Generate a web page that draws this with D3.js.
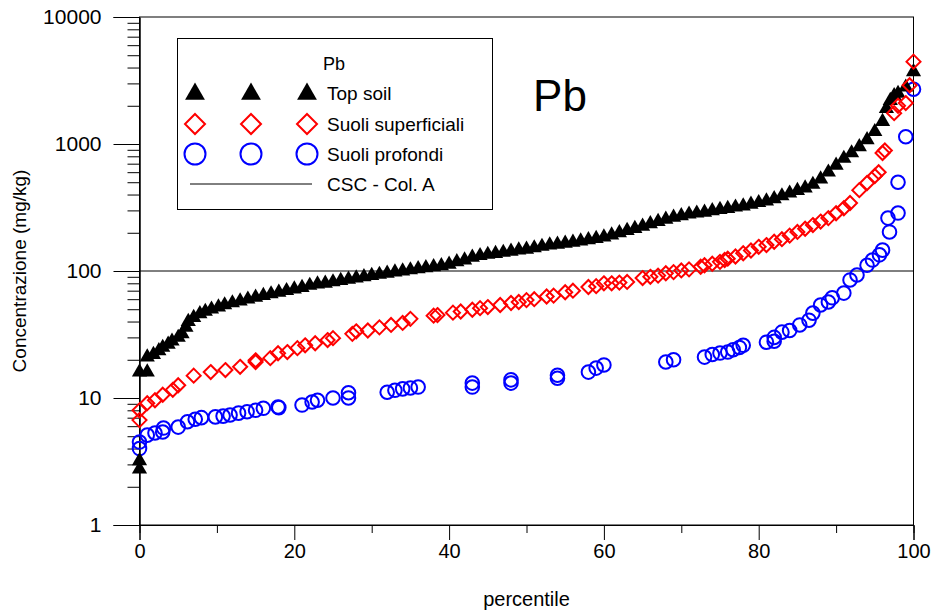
<!DOCTYPE html>
<html><head><meta charset="utf-8">
<script src="https://cdn.jsdelivr.net/npm/d3@7"></script>
<style>body{margin:0;background:#fff}svg{display:block}text{font-family:"Liberation Sans",Arial,sans-serif}</style>
</head><body>
<svg id="c" width="935" height="613"></svg>
<script>
// ---- data ----
const topSoilPct = [0,0,0,1,1,1.8,2.5,3,3.7,4.2,5,5.5,6,6.3,7,7.8,8.5,9.3,10.2,11,12,13,14,15,16,17,18,19,20,21,22,23,24,25,26,27,28,29,30,31,32,33,34,35,36,37,38,39,40,41,42,43,44,45,46,47,48,49,50,51,52,53,54,55,56,57,58,59,60,61,62,63,64,65,66,67,68,69,70,71,72,73,74,75,76,77,78,79,80,81,82,83,84,85,86,87,88,89,90,91,92,93,94,95,96,96.5,97,97.5,98,99,100];
const topSoilVal = [2.75,3.2,16,16,21,22,23.5,25,26.5,28,30,32,36,40,43,46,48,50,52,54,56,58,60,62,64,66,68,70,72,74,77,79,80,82,84,86,88,90,92,94,96,98,100,102,104,106,108,110,113,118,122,128,132,135,137,140,143,146,148,152,156,160,162,165,168,172,176,180,185,192,200,208,216,225,235,245,255,265,272,280,285,290,298,305,310,318,325,335,345,355,370,390,410,430,450,480,530,600,680,770,850,950,1080,1250,1500,1900,2200,2400,2500,2800,3700];

const superfPct = [0,0,1,2,3,4.3,5,7,9.2,11.1,13,15,15,16.9,17.9,19.1,20.4,21.4,22.7,24.3,25,27.5,28,29.5,31,32.5,34,35,38,38.5,40.5,41.5,43,44,45,46.6,48,49,50,51,52.6,53.5,55,56,58,59,60,61,62,63,65,66,67,68,69,70,71,72.5,73,74,75,75.6,76,77,78,79,80,81,82,83,84,85,86,87,88,89,90,91,91.8,93,94,95,95.5,96,96.3,97.5,98,99,99.5,100];
const superfVal = [6.7,8.0,9.1,9.6,10.6,11.6,12.6,15,16,16.6,17.6,19.2,19.8,20.6,22.5,23,24.7,26,27,28.6,29.6,32,33.5,34,36,37.6,39,42,44.5,45,47,48,49.5,51,52,54,56,57,59,60,63,64,68,70,74.8,76,80,80,81,82,88,90,92,96,98,101,103,108,111,114,118,122,125,130,138,145,155,160,170,178,190,203,215,230,245,261,285,312,343,433,493,560,600,850,890,1750,2000,2100,2900,4450];

const profPct = [0,0,1,2,3,3.1,5,6.2,7.2,8,9.8,10.8,11.7,12.8,13.9,15,16,17.9,18,21,22.3,23,25,27,27,32,33,34,35,36,43,43,48,48,54,54,58,59,60,68,69,73,74,75,76,76.7,77.5,78,81,82,82,83,84,85.3,86.5,87,88,89,89.5,91,91.8,92.7,94,94.7,95.6,96,96.9,96.7,98,98,99,100];
const profVal = [4.0,4.5,5.1,5.3,5.4,5.8,5.9,6.5,6.8,7.0,7.1,7.2,7.35,7.6,7.8,8.0,8.3,8.5,8.4,8.8,9.3,9.6,10,11,10,11.1,11.5,11.8,12,12.2,13.1,12.2,13.9,13.1,15.1,14.3,16,17.2,18.2,19.2,20,21,22,22.6,23,24,25,26,27.5,28,30,33,34,37.6,41,46.6,54,57,61.5,67,85,93,111,122,134,146,203,261,286,500,1140,2700];

const cscLimit = 100;
const xTicks = [0,20,40,60,80,100];
const xMinor = [10,30,50,70,90];
const yTicks = [1,10,100,1000,10000];
const seriesNames = ["Top soil","Suoli superficiali","Suoli profondi","CSC - Col. A"];

// ---- chart ----
const svg = d3.select("#c");
const L = 139.5, R = 913.5, T = 17, B = 525;
const x = d3.scaleLinear().domain([0,100]).range([L,R]);
const y = d3.scaleLog().domain([1,10000]).range([B,T]);

// frame
svg.append("rect").attr("x",L).attr("y",T).attr("width",R-L).attr("height",B-T)
  .attr("fill","none").attr("stroke","#000").attr("stroke-width",1);

// y axis
const yMinor = [];
for (let d=1; d<10000; d*=10) for (let k=2;k<=9;k++) yMinor.push(d*k);
const yAx = svg.append("g").attr("transform",`translate(${L},0)`);
yAx.call(d3.axisLeft(y).tickValues(yTicks).tickFormat(d3.format("d")).tickSize(26).tickPadding(12));
yAx.append("g").call(d3.axisLeft(y).tickValues(yMinor).tickFormat("").tickSize(12));
yAx.selectAll(".domain").attr("stroke","#000");
yAx.selectAll("text").attr("font-size",21).attr("fill","#000");
yAx.selectAll("line").attr("stroke","#000");

// x axis
const xAx = svg.append("g").attr("transform",`translate(0,${B})`);
xAx.call(d3.axisBottom(x).tickValues(xTicks).tickSize(15).tickPadding(4));
xAx.append("g").call(d3.axisBottom(x).tickValues(xMinor).tickFormat("").tickSize(8));
xAx.selectAll(".domain").attr("stroke","#000");
xAx.selectAll("text").attr("font-size",20).attr("fill","#000");
xAx.selectAll("line").attr("stroke","#000");

svg.append("text").attr("x",(L+R)/2).attr("y",606).attr("text-anchor","middle")
  .attr("font-size",20).text("percentile");
svg.append("text").attr("transform","translate(26,271) rotate(-90)").attr("text-anchor","middle")
  .attr("font-size",19).text("Concentrazione (mg/kg)");

// CSC line
svg.append("line").attr("x1",L).attr("x2",R).attr("y1",y(cscLimit)).attr("y2",y(cscLimit))
  .attr("stroke","#000").attr("stroke-width",1);

const tri = d3.symbol().type(d3.symbolTriangle).size(100);
const dia = (s)=>`M0,${-s}L${s},0L0,${s}L${-s},0Z`;

// blue circles
svg.append("g").selectAll("circle").data(profPct.map((p,i)=>[p,profVal[i]])).join("circle")
  .attr("cx",d=>x(d[0])).attr("cy",d=>y(d[1])).attr("r",6.8)
  .attr("fill","none").attr("stroke","#0000ff").attr("stroke-width",2);
// black triangles
svg.append("g").selectAll("path").data(topSoilPct.map((p,i)=>[p,topSoilVal[i]])).join("path")
  .attr("d",tri).attr("transform",d=>`translate(${x(d[0])},${y(d[1])})`).attr("fill","#000");
// red diamonds
svg.append("g").selectAll("path").data(superfPct.map((p,i)=>[p,superfVal[i]])).join("path")
  .attr("d",dia(7)).attr("transform",d=>`translate(${x(d[0])},${y(d[1])})`)
  .attr("fill","none").attr("stroke","#ff0000").attr("stroke-width",2);

// Big label
svg.append("text").attr("x",560).attr("y",111).attr("text-anchor","middle")
  .attr("font-size",44).attr("font-family","'Comic Sans MS','DejaVu Sans',sans-serif").text("Pb");

// legend
const lg = svg.append("g");
lg.append("rect").attr("x",177.5).attr("y",38.5).attr("width",315).attr("height",171)
  .attr("fill","#fff").attr("stroke","#000").attr("stroke-width",1);
lg.append("text").attr("x",323).attr("y",70).attr("font-size",18).text("Pb");
const lx = [195,251,307], tx = 327;
const rows = [93,124,154,184];
const triL = d3.symbol().type(d3.symbolTriangle).size(170);
lx.forEach(cx=>{
  lg.append("path").attr("d",triL).attr("transform",`translate(${cx},${rows[0]+1})`).attr("fill","#000");
  lg.append("path").attr("d",dia(10)).attr("transform",`translate(${cx},${rows[1]})`)
    .attr("fill","none").attr("stroke","#ff0000").attr("stroke-width",2);
  lg.append("circle").attr("cx",cx).attr("cy",rows[2]).attr("r",10.5)
    .attr("fill","none").attr("stroke","#0000ff").attr("stroke-width",2);
});
lg.append("line").attr("x1",190).attr("x2",312).attr("y1",rows[3]).attr("y2",rows[3]).attr("stroke","#000");
seriesNames.forEach((n,i)=>{
  lg.append("text").attr("x",tx).attr("y",rows[i]+7).attr("font-size",19).text(n);
});
</script>
</body></html>
